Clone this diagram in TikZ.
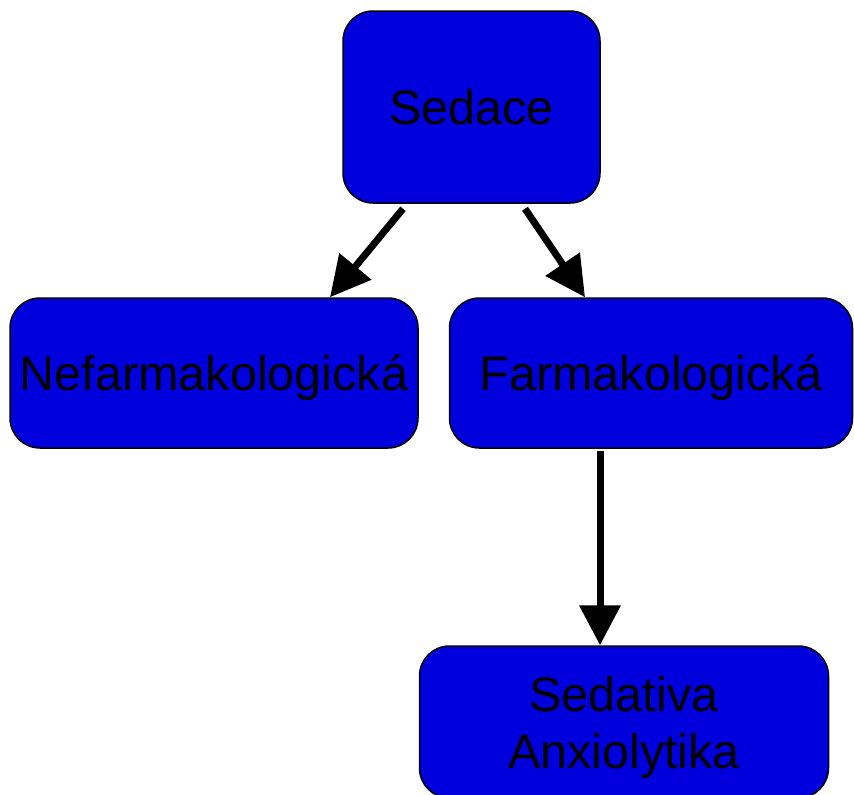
\documentclass[tikz,border=0pt]{standalone}
\usepackage{fontspec}
\setmainfont{Liberation Sans}
\usetikzlibrary{arrows.meta,calc}
\definecolor{boxblue}{RGB}{0,0,221}
\begin{document}
\begin{tikzpicture}[x=1pt,y=-1pt,
  box/.style={draw=black,line width=1.5pt,fill=boxblue,rounded corners=30pt,
    inner sep=0pt,align=center,text depth=0pt,font=\fontsize{48.5}{57}\selectfont},
  conn/.style={line width=7pt,-{Triangle[length=40pt,width=40pt]}}]
\useasboundingbox (0,0) rectangle (854,795);
\node[box,minimum width=257pt,minimum height=192pt] (sed) at (471.5,107) {Sedace};
\node[box,minimum width=408pt,minimum height=150pt] (nef) at (214,373) {Nefarmakologická};
\node[box,minimum width=403pt,minimum height=150pt] (far) at (651,373) {Farmakologická};
\node[box,minimum width=409pt,minimum height=152pt] (sa) at (624,722) {Sedativa\\Anxiolytika};
\draw[conn] ($(sed.south)+(-68.5,5)$) -- ($(nef.north)+(116,0)$);
\draw[conn] ($(sed.south)+(53.5,5)$) -- ($(far.north)+(-66,0)$);
\draw[conn] ($(far.south)+(-51,2)$) -- ($(sa.north)+(-24,0)$);
\end{tikzpicture}
\end{document}
